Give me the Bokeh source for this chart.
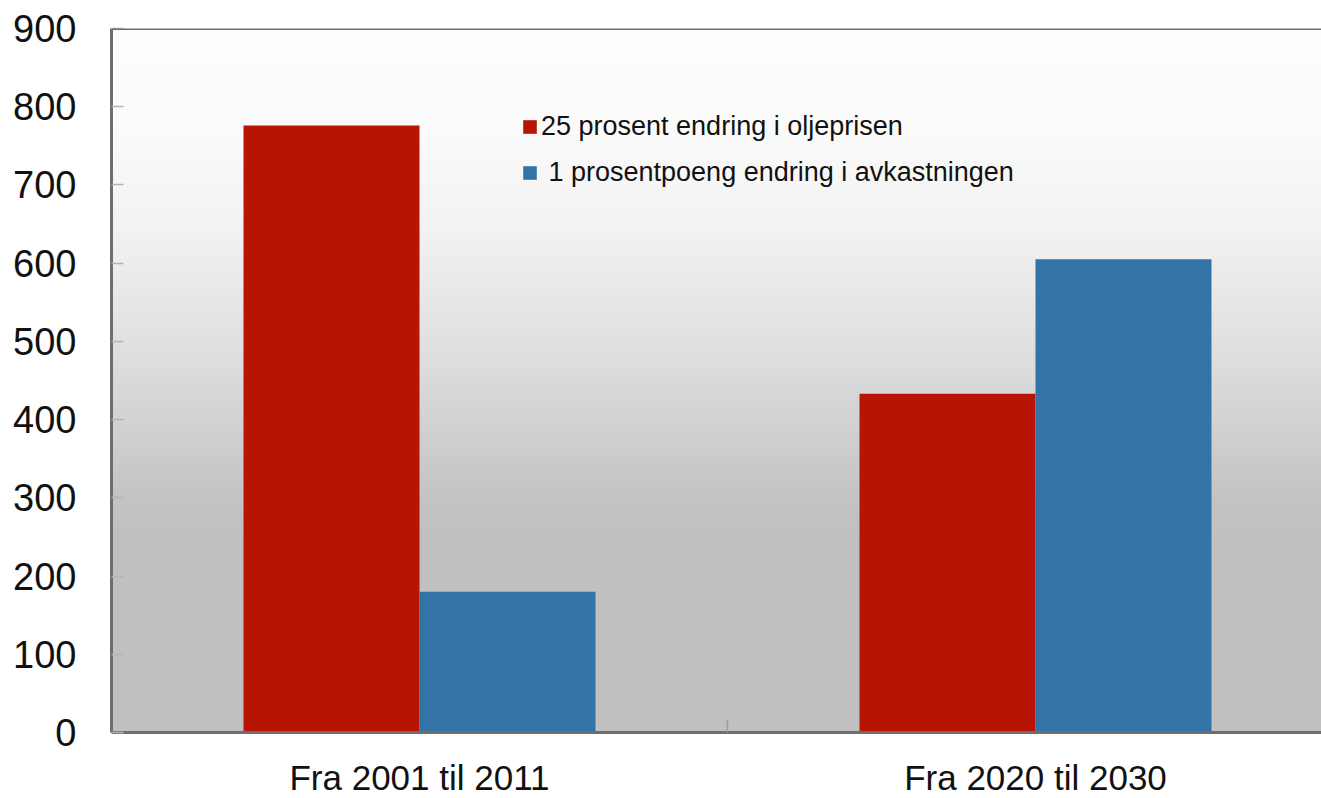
import numpy as np
from bokeh.plotting import figure
from bokeh.models import (ColumnDataSource, Range1d, FixedTicker, Legend, LegendItem, Span)
from bokeh.transform import dodge
from bokeh.embed import file_html
from bokeh.resources import INLINE

# ---- data ----
categories = ["Fra 2001 til 2011", "Fra 2020 til 2030"]
oil_price_25pct = [776, 433]
return_1pp = [180, 605]
series_names = ["25 prosent endring i oljeprisen", "\u00a01 prosentpoeng endring i avkastningen"]
y_ticks = [0, 100, 200, 300, 400, 500, 600, 700, 800, 900]

RED = "#B81406"
BLUE = "#3473A8"
FONT = "Liberation Sans"

centers = [i + 0.5 for i in range(len(categories))]
src = ColumnDataSource(dict(x=centers, oil=oil_price_25pct, ret=return_1pp))

FW, FH = 1210, 704
x_end = FW / 616.0

p = figure(frame_width=FW, frame_height=FH, output_backend="svg", toolbar_location=None,
           x_range=Range1d(0, x_end), y_range=Range1d(0, 900),
           min_border_left=111, min_border_right=0, min_border_top=28, min_border_bottom=66,
           background_fill_color="white", border_fill_color="white")
p.outline_line_color = None
p.grid.visible = False

# gradient background (styling only)
stops_f = [0.0, 0.145, 0.287, 0.429, 0.571, 0.666, 0.727, 1.0]
stops_v = [254, 251, 242, 227, 209, 196, 192, 192]
N = 400
frac_from_top = 1 - (np.arange(N) + 0.5) / N
g = np.interp(frac_from_top, stops_f, stops_v).astype(np.uint32)
img = np.empty((N, 1), dtype=np.uint32)
view = img.view(dtype=np.uint8).reshape((N, 1, 4))
view[:, 0, 0] = g
view[:, 0, 1] = g
view[:, 0, 2] = g
view[:, 0, 3] = 255
p.image_rgba(image=[img], x=0, y=0, dw=x_end, dh=900)

bw = 0.2857
r1 = p.vbar(x=dodge("x", -bw / 2), top="oil", width=bw, source=src,
            fill_color=RED, line_color=None)
r2 = p.vbar(x=dodge("x", bw / 2), top="ret", width=bw, source=src,
            fill_color=BLUE, line_color=None)

# top border
p.add_layout(Span(location=900, dimension="width", line_color="#6E6E6E", line_width=3))

# axes
ax = p.xaxis[0]
ax.ticker = FixedTicker(ticks=centers, minor_ticks=[1.0])
ax.major_label_overrides = {c: cat for c, cat in zip(centers, categories)}
ax.major_tick_in = 0
ax.major_tick_out = 0
ax.minor_tick_in = 12
ax.minor_tick_out = 0
ax.minor_tick_line_color = "#9A9A9A"
ax.minor_tick_line_width = 1.5
ax.axis_line_color = "#6E6E6E"
ax.axis_line_width = 3
ax.major_label_text_font = FONT
ax.major_label_text_font_size = "35px"
ax.major_label_text_color = "#111111"
ax.major_label_standoff = 25

ay = p.yaxis[0]
ay.ticker = FixedTicker(ticks=y_ticks)
ay.major_tick_in = 12
ay.major_tick_out = 0
ay.major_tick_line_color = "#B4B4B4"
ay.major_tick_line_width = 1.5
ay.minor_tick_line_color = None
ay.axis_line_color = "#6E6E6E"
ay.axis_line_width = 3
ay.major_label_text_font = FONT
ay.major_label_text_font_size = "38px"
ay.major_label_text_color = "#111111"
ay.major_label_standoff = 35

legend = Legend(items=[LegendItem(label=series_names[0], renderers=[r1]),
                       LegendItem(label=series_names[1], renderers=[r2])],
                location=(410, 544), orientation="vertical",
                background_fill_alpha=0, border_line_color=None,
                padding=0, margin=0, spacing=15,
                glyph_width=17, glyph_height=17, label_height=24,
                label_standoff=3,
                label_text_font=FONT, label_text_font_size="27px",
                label_text_color="#111111")
p.add_layout(legend, "center")

open("out.html", "w").write(file_html(p, INLINE))
